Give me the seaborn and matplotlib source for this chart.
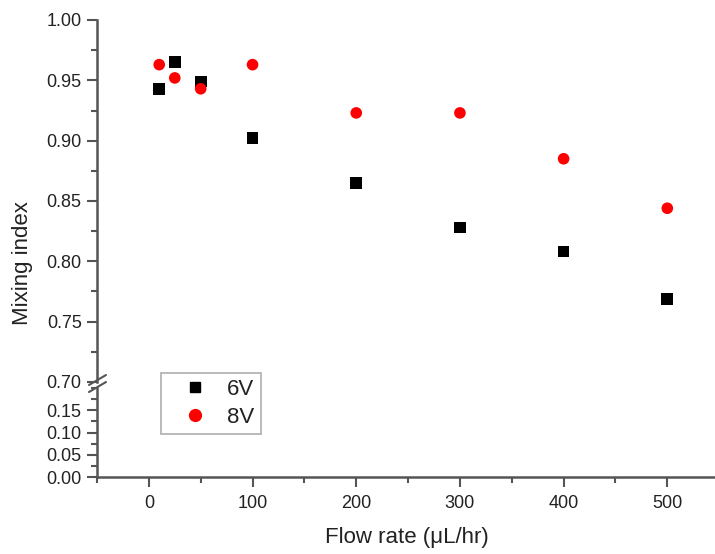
# Mixing index vs flow rate, broken y-axis (Origin-style)
import pandas as pd
import seaborn as sns
import matplotlib.pyplot as plt
from matplotlib.ticker import MultipleLocator

# data
flow_rate = [10, 25, 50, 100, 200, 300, 400, 500]
mix_6v = [0.943, 0.965, 0.949, 0.902, 0.865, 0.828, 0.808, 0.769]
mix_8v = [0.963, 0.952, 0.943, 0.963, 0.923, 0.923, 0.885, 0.844]
series = ['6V', '8V']

df = pd.DataFrame({
    'Flow rate': flow_rate * 2,
    'Mixing index': mix_6v + mix_8v,
    'Voltage': [series[0]] * len(mix_6v) + [series[1]] * len(mix_8v),
})

sns.set_theme(style='ticks')
plt.rcParams['font.family'] = ['Liberation Sans', 'DejaVu Sans']

W, H = 715, 554
fig = plt.figure(figsize=(W / 100, H / 100), dpi=100)

left = 97 / W
right = 1.0
ax_top = fig.add_axes([left, 1 - 382 / H, right - left, (382 - 20) / H])
ax_bot = fig.add_axes([left, 1 - 477 / H, right - left, (477 - 388) / H])

sns.scatterplot(data=df, x='Flow rate', y='Mixing index', hue='Voltage', style='Voltage',
                palette={'6V': 'black', '8V': 'red'}, markers={'6V': 's', '8V': 'o'},
                s=70, linewidth=0, ax=ax_top, legend=False)

spine_col = '#555555'
text_col = '#222222'
for ax in (ax_top, ax_bot):
    ax.set_xlim(-50, 546)
    ax.spines['top'].set_visible(False)
    ax.spines['right'].set_visible(False)
    ax.spines['left'].set_color(spine_col)
    ax.spines['bottom'].set_color(spine_col)
    ax.spines['left'].set_linewidth(1.8)
    ax.spines['bottom'].set_linewidth(1.8)
    ax.set_xlabel('')
    ax.set_ylabel('')
    ax.tick_params(which='major', length=7, width=1.5, color=spine_col,
                   labelsize=13, labelcolor=text_col, pad=4)
    ax.tick_params(which='minor', length=4, width=1.5, color=spine_col)

ax_top.set_ylim(0.70, 1.00)
ax_top.yaxis.set_major_locator(MultipleLocator(0.05))
ax_top.yaxis.set_minor_locator(MultipleLocator(0.025))
ax_top.yaxis.set_major_formatter('{x:.2f}')
ax_top.spines['bottom'].set_visible(False)
ax_top.tick_params(axis='x', which='both', bottom=False, labelbottom=False)

ax_bot.set_ylim(0.0, 0.2)
ax_bot.set_yticks([0.0, 0.05, 0.10, 0.15])
ax_bot.yaxis.set_minor_locator(MultipleLocator(0.025))
ax_bot.yaxis.set_major_formatter('{x:.2f}')
ax_bot.xaxis.set_major_locator(MultipleLocator(100))
ax_bot.xaxis.set_minor_locator(MultipleLocator(50))
ax_bot.tick_params(axis='x', which='major', pad=6)

# break marks on the y axis
for dy in (-4, 3):
    y0 = 1 - (384 + dy) / H
    fig.add_artist(plt.Line2D([89 / W, 106 / W], [y0 - 5 / H, y0 + 5 / H],
                              color=spine_col, lw=1.5))

# legend
handles = [
    plt.Line2D([], [], marker='s', color='black', ls='', markersize=7.5),
    plt.Line2D([], [], marker='o', color='red', ls='', markersize=8.5),
]
leg = fig.legend(handles, series, loc='upper left', bbox_to_anchor=(161 / W, 1 - 373 / H),
                 frameon=True, fancybox=False, fontsize=16, handletextpad=0.2,
                 borderpad=0.28, labelspacing=0.3, handlelength=2.5, borderaxespad=0)
leg.get_frame().set_edgecolor('#999999')
leg.get_frame().set_linewidth(1.2)
for t in leg.get_texts():
    t.set_color(text_col)

fig.text(407 / W, 1 - 538 / H, 'Flow rate (\u03bcL/hr)', ha='center', va='center',
         fontsize=16, color=text_col)
fig.text(23 / W, 1 - 263 / H, 'Mixing index', ha='center', va='center', rotation=90,
         fontsize=16, color=text_col)

fig.savefig('out.png', dpi=100)
